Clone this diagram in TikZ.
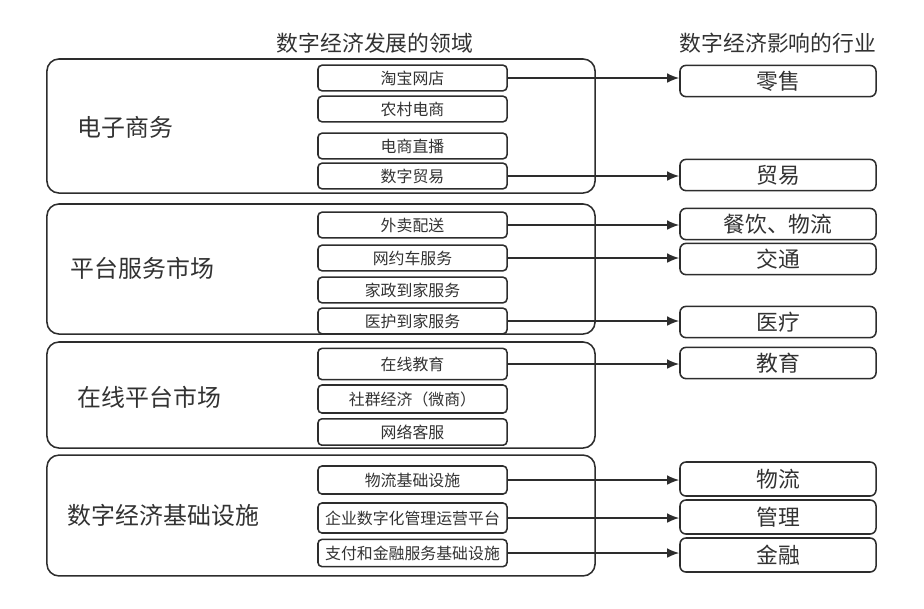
\documentclass[tikz,border=0pt]{standalone}
\usepackage{fontspec}
\setmainfont{Noto Sans CJK SC}
\usepackage{xcolor}
\usetikzlibrary{arrows.meta, positioning}
\definecolor{linegray}{RGB}{45,45,45}
\definecolor{textgray}{RGB}{50,50,50}

\tikzset{
    groupbox/.style={draw=linegray, line width=1.1pt, rounded corners=0.3cm,
        minimum width=13.7cm},
    grouplabel/.style={text=textgray, font=\fontsize{17}{20}\selectfont, anchor=west},
    fieldbox/.style={draw=linegray, line width=1.1pt, rounded corners=0.1cm,
        minimum width=4.725cm, minimum height=0.64cm, inner sep=0pt,
        text=textgray, font=\fontsize{11.3}{13}\selectfont},
    industrybox/.style={draw=linegray, line width=1.1pt, rounded corners=0.15cm,
        minimum width=4.9cm, minimum height=0.78cm, inner sep=0pt,
        text=textgray, font=\fontsize{15.5}{18}\selectfont},
    coltitle/.style={text=textgray, font=\fontsize{15.5}{18}\selectfont},
    link/.style={draw=linegray, line width=1.1pt, -{Latex[length=3mm,width=2.4mm]}}
}

\begin{document}
\begin{tikzpicture}[x=0.025cm, y=-0.025cm]
    \useasboundingbox (0,0) rectangle (924,608);

    % column titles
    \node[coltitle] (lefttitle) at (375,43) {数字经济发展的领域};
    \node[coltitle] (righttitle) at (778,43) {数字经济影响的行业};

    % the four groups
    \node[groupbox, minimum height=3.35cm] (ecom) at (321,126) {};
    \node[groupbox, minimum height=3.25cm] (platform) at (321,269) {};
    \node[groupbox, minimum height=2.65cm] (online) at (321,395) {};
    \node[groupbox, minimum height=3.02cm] (infra) at (321,515.5) {};

    \node[grouplabel] (ecomlabel) at (73,127) {电子商务};
    \node[grouplabel] (platformlabel) at (66,268) {平台服务市场};
    \node[grouplabel] (onlinelabel) at (73,397) {在线平台市场};
    \node[grouplabel] (infralabel) at (63,515) {数字经济基础设施};

    % fields
    \node[fieldbox] (taobao) at (412.5,78) {淘宝网店};
    \node[fieldbox] (rural) at (412.5,109) {农村电商};
    \node[fieldbox] (live) at (412.5,146) {电商直播};
    \node[fieldbox] (trade) at (412.5,176) {数字贸易};

    \node[fieldbox] (delivery) at (412.5,225) {外卖配送};
    \node[fieldbox] (ridehail) at (412.5,258) {网约车服务};
    \node[fieldbox] (housekeep) at (412.5,290) {家政到家服务};
    \node[fieldbox] (homecare) at (412.5,321) {医护到家服务};

    \node[fieldbox, minimum height=0.78cm] (edufield) at (412.5,364) {在线教育};
    \node[fieldbox, minimum height=0.7cm] (community) at (412.5,399) {社群经济（微商）};
    \node[fieldbox, minimum height=0.66cm] (service) at (412.5,432) {网络客服};

    \node[fieldbox, minimum height=0.7cm] (logisticsinfra) at (412.5,480) {物流基础设施};
    \node[fieldbox, minimum height=0.75cm] (mgmtplatform) at (412.5,518) {企业数字化管理运营平台};
    \node[fieldbox, minimum height=0.68cm] (payinfra) at (412.5,553) {支付和金融服务基础设施};

    % industries
    \node[industrybox] (retail) at (778,81) {零售};
    \node[industrybox] (tradeind) at (778,175) {贸易};
    \node[industrybox] (food) at (778,224) {餐饮、物流};
    \node[industrybox] (traffic) at (778,259) {交通};
    \node[industrybox] (medical) at (778,322) {医疗};
    \node[industrybox] (education) at (778,363) {教育};
    \node[industrybox, minimum height=0.85cm] (logistics) at (778,479) {物流};
    \node[industrybox, minimum height=0.85cm] (mgmt) at (778,517) {管理};
    \node[industrybox, minimum height=0.85cm] (finance) at (778,555) {金融};

    % links
    \draw[link] (taobao.east) -- (taobao.east -| retail.west);
    \draw[link] (trade.east) -- (trade.east -| tradeind.west);
    \draw[link] (delivery.east) -- (delivery.east -| food.west);
    \draw[link] (ridehail.east) -- (ridehail.east -| traffic.west);
    \draw[link] (homecare.east) -- (homecare.east -| medical.west);
    \draw[link] (edufield.east) -- (edufield.east -| education.west);
    \draw[link] (logisticsinfra.east) -- (logisticsinfra.east -| logistics.west);
    \draw[link] (mgmtplatform.east) -- (mgmtplatform.east -| mgmt.west);
    \draw[link] (payinfra.east) -- (payinfra.east -| finance.west);
\end{tikzpicture}
\end{document}
